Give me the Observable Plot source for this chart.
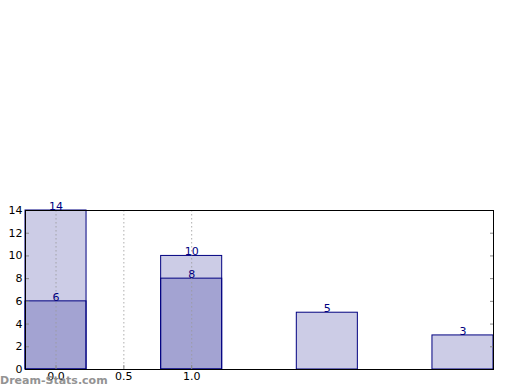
<!DOCTYPE html>
<html><head><meta charset="utf-8">
<script src="https://cdn.jsdelivr.net/npm/d3@7"></script>
<script src="https://cdn.jsdelivr.net/npm/@observablehq/plot@0.6"></script>
<style>
body{margin:0;background:#fff;}
#wrap{position:relative;width:520px;height:390px;}
#wm{position:absolute;left:0px;top:374px;font:bold 11px "DejaVu Sans",sans-serif;color:#939393;z-index:2;}
</style></head><body>
<div id="wrap"><div id="wm">Dream-Stats.com</div></div>
<script>
const positions = [0, 1, 2, 3];
const totals = [14, 10, 5, 3];
const innerPositions = [0, 1];
const innerValues = [6, 8];
const xTicks = [0, 0.5, 1.0];
const xTickLabels = ["0.0", "0.5", "1.0"];
const yTicks = [0, 2, 4, 6, 8, 10, 12, 14];
const barWidth = 0.45;

const outer = positions.map((p, i) => ({x: p, v: totals[i]}));
const inner = innerPositions.map((p, i) => ({x: p, v: innerValues[i]}));

const chart = Plot.plot({
  width: 520, height: 390,
  marginLeft: 25, marginRight: 27, marginTop: 210, marginBottom: 21,
  style: {fontFamily: "DejaVu Sans, sans-serif", fontSize: "11px", color: "#000", background: "#fff"},
  x: {domain: [-barWidth/2, 3 + barWidth/2], label: null},
  y: {domain: [0, 14], label: null},
  marks: [
    Plot.rectY(outer, {x1: d => d.x - barWidth/2, x2: d => d.x + barWidth/2, y1: 0, y2: "v", fill: "navy", fillOpacity: 0.2, stroke: "navy", strokeWidth: 1}),
    Plot.rectY(inner, {x1: d => d.x - barWidth/2, x2: d => d.x + barWidth/2, y1: 0, y2: "v", fill: "navy", fillOpacity: 0.2, stroke: "navy", strokeWidth: 1}),
    Plot.ruleX(xTicks, {stroke: "#999", strokeOpacity: 0.8, strokeDasharray: "1.5,2.5", strokeWidth: 1}),
    Plot.text(outer, {x: "x", y: "v", text: d => String(d.v), fill: "navy", lineAnchor: "bottom", dy: -0.5, fontSize: 11}),
    Plot.text(inner, {x: "x", y: "v", text: d => String(d.v), fill: "navy", lineAnchor: "bottom", dy: -0.5, fontSize: 11}),
    Plot.axisY({ticks: yTicks, tickSize: -4, tickPadding: 7, stroke: "#888", tickFormat: d => String(d), fill: "#000", label: null}),
    Plot.axisY({ticks: yTicks, anchor: "right", tickSize: -4, stroke: "#888", tickFormat: () => "", label: null}),
    Plot.axisX({ticks: xTicks, tickSize: -4, tickPadding: 7, stroke: "#888", tickFormat: d => xTickLabels[xTicks.indexOf(d)], fill: "#000", label: null}),
    Plot.frame({stroke: "#000", strokeWidth: 1})
  ]
});
document.getElementById("wrap").prepend(chart);
chart.style.position = "absolute"; chart.style.left = "0"; chart.style.top = "0";
</script>
</body></html>
